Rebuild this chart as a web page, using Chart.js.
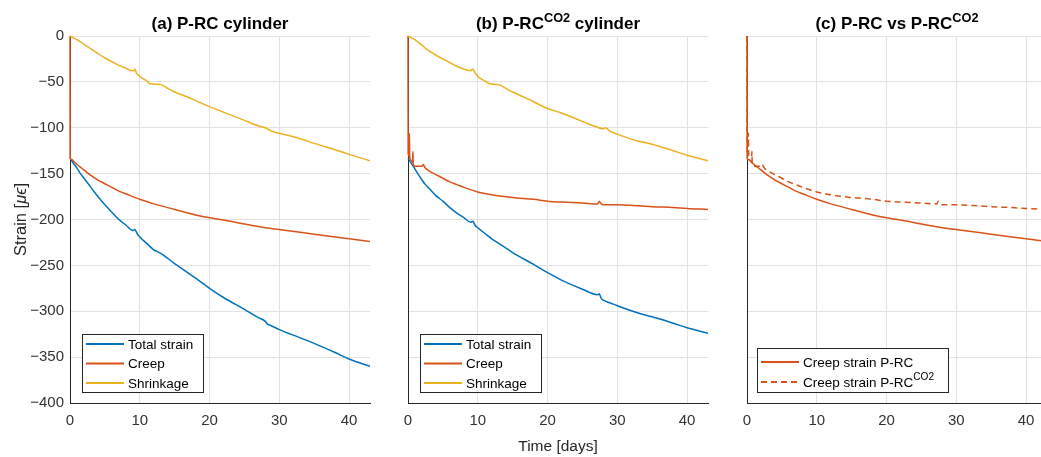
<!DOCTYPE html>
<html><head><meta charset="utf-8">
<script src="https://cdn.jsdelivr.net/npm/chart.js@4/dist/chart.umd.min.js"></script>
<style>
html,body{margin:0;padding:0;background:#fff;}
body{width:1041px;height:457px;overflow:hidden;position:relative;}
canvas{position:absolute;top:0;}
</style></head>
<body>
<canvas id="ca" width="380" height="457" style="left:0px"></canvas>
<canvas id="cb" width="380" height="457" style="left:338px"></canvas>
<canvas id="cc" width="380" height="457" style="left:677px"></canvas>
<script>
// ---------- data ----------
const xTicks = [0, 10, 20, 30, 40];
const yTicks = [0, -50, -100, -150, -200, -250, -300, -350, -400];

// (a) P-RC cylinder
const totalA_t = [0, 0.5, 1, 1.5, 2, 3, 4, 5, 6, 7, 8, 9, 9.3, 9.6, 10, 11, 12, 12.5, 13, 15, 18, 20, 22, 25, 27, 28, 28.3, 28.6, 30, 33, 35, 38, 40, 43];
const totalA_v = [-133, -139, -144, -150, -155, -165, -175, -184, -192, -200, -206, -212, -211, -215, -219, -226, -233, -235, -237, -248, -264, -275, -285, -298, -307, -311, -314, -315, -320, -329, -335, -345, -352, -360];
const creepA_t = [0, 0.02, 0.3, 0.6, 1, 1.5, 2, 3, 4, 5, 6, 7, 8, 10, 12, 15, 18, 20, 23, 25, 28, 30, 33, 35, 38, 40, 43];
const creepA_v = [0, -133, -135, -137, -140, -143, -146, -152, -157, -161, -165, -169, -172, -178, -183, -189, -195, -198, -202, -205, -209, -211, -214, -216, -219, -221, -224];
const shrinkA_t = [0, 0.5, 1, 2, 3, 4, 5, 6, 7, 8, 9, 9.2, 9.3, 9.5, 10, 11, 11.5, 13, 14, 15, 17, 20, 22, 25, 27, 28, 28.5, 29, 30, 33, 35, 38, 40, 43];
const shrinkA_v = [0, -2, -4, -9, -14, -19, -24, -28, -32, -35, -38, -37.5, -36, -40, -44, -49, -52, -53, -57, -61, -67, -77, -83, -92, -98, -100, -102, -104, -106, -112, -117, -124, -129, -136];

// (b) P-RC CO2 cylinder
const totalB_t = [0, 0.5, 1, 1.5, 2, 2.5, 3, 4, 5, 6, 7, 8, 9, 9.3, 9.6, 10, 11, 12, 13, 15, 18, 20, 22, 25, 27.2, 27.4, 27.7, 28, 29, 30, 33, 35, 38, 40, 43];
const totalB_v = [-133, -139, -145, -151, -157, -162, -166, -174, -180, -187, -193, -198, -203, -202, -206, -209, -215, -221, -226, -236, -249, -258, -266, -276, -282, -281, -286, -288, -291, -294, -302, -306, -313, -318, -324];
const creepB_t = [0, 0.02, 0.15, 0.2, 0.25, 0.5, 0.65, 0.7, 0.75, 1, 1.5, 2, 2.2, 2.4, 3, 4, 5, 6, 7, 8, 10, 12, 15, 18, 20, 22, 25, 27.2, 27.4, 27.7, 28, 30, 33, 35, 38, 40, 43];
const creepB_v = [0, -128, -131, -106, -132, -136, -138, -126, -139, -142, -142, -142, -140, -143, -147, -151, -155, -159, -162, -165, -170, -173, -176, -178, -180, -181, -182, -183, -180, -183, -184, -184, -185, -186, -187, -188, -189];
const shrinkB_t = [0, 0.5, 1, 1.5, 2, 2.6, 3, 4, 5, 6, 7, 8, 9, 9.1, 9.3, 9.6, 10, 11, 11.7, 13, 14, 15, 17, 20, 22, 25, 27, 27.9, 28.3, 29, 30, 32.7, 35, 38, 40, 43];
const shrinkB_v = [0, -2, -4, -7, -10, -14, -16, -21, -25, -29, -33, -36, -38, -37, -36, -40, -44, -49, -52, -53, -57, -61, -68, -79, -84, -93, -99, -101, -100, -104, -107, -114, -118, -125, -130, -136];

// ---------- styling ----------
const FONT = '"Liberation Sans", Arial, Helvetica, sans-serif';
const BLUE = '#0072BD', ORANGE = '#D95319', YELLOW = '#EDB120';
const AXIS = '#262626', GRID = '#e2e2e2', TICK = '#333333';

function pts(t, v) { return t.map((x, i) => ({ x: x, y: v[i] })); }

function fontStr(p, size, weight) {
  const s = p.sup ? size * 0.75 : size;
  return (p.it ? 'italic ' : '') + (weight || 'normal') + ' ' + s + 'px ' + FONT;
}
function drawRich(ctx, parts, x, y, size, weight, align, color) {
  let w = 0;
  parts.forEach(p => { ctx.font = fontStr(p, size, weight); w += ctx.measureText(p.t).width; });
  let cx = align === 'center' ? x - w / 2 : x;
  ctx.fillStyle = color;
  ctx.textAlign = 'left';
  parts.forEach(p => {
    ctx.font = fontStr(p, size, weight);
    ctx.fillText(p.t, cx, y + (p.sup ? -size * 0.42 : 0));
    cx += ctx.measureText(p.t).width;
  });
}

const decor = {
  id: 'decor',
  afterDraw(chart, args, o) {
    const ctx = chart.ctx, a = chart.chartArea;
    ctx.save();
    ctx.textBaseline = 'alphabetic';
    drawRich(ctx, o.title, (a.left + a.right) / 2, 29, 17, 'bold', 'center', '#000');
    if (o.ylabel) {
      ctx.save();
      ctx.translate(26, (a.top + a.bottom) / 2);
      ctx.rotate(-Math.PI / 2);
      drawRich(ctx, o.ylabel, 0, 0, 16.5, 'normal', 'center', AXIS);
      ctx.restore();
    }
    if (o.xlabel) {
      drawRich(ctx, o.xlabel, (a.left + a.right) / 2, 451, 15.5, 'normal', 'center', AXIS);
    }
    const L = o.legend;
    ctx.fillStyle = '#fff';
    ctx.fillRect(L.x, L.y, L.w, L.h);
    ctx.strokeStyle = AXIS;
    ctx.lineWidth = 1;
    ctx.strokeRect(L.x + 0.5, L.y + 0.5, L.w, L.h);
    L.items.forEach((it, i) => {
      const yy = L.y + L.first + i * L.step;
      ctx.beginPath();
      ctx.setLineDash(it.dash || []);
      ctx.strokeStyle = it.color;
      ctx.lineWidth = 2;
      ctx.moveTo(L.x + 4, yy);
      ctx.lineTo(L.x + 42, yy);
      ctx.stroke();
      ctx.setLineDash([]);
      ctx.textBaseline = 'middle';
      drawRich(ctx, it.label, L.x + 46, yy + 1, 13.5, 'normal', 'left', '#000');
      ctx.textBaseline = 'alphabetic';
    });
    ctx.restore();
  }
};

function line(data, color, order, dash) {
  return {
    data: data, borderColor: color, backgroundColor: color, borderWidth: 1.5,
    pointRadius: 0, cubicInterpolationMode: 'monotone', fill: false, order: order,
    borderDash: dash || [], clip: { left: 3, top: 3, right: 0, bottom: 0 }
  };
}

const minusFmt = v => String(v).replace('-', '\u2212');

function makeChart(id, datasets, showY, decorOpts) {
  return new Chart(document.getElementById(id), {
    type: 'line',
    data: { datasets: datasets },
    options: {
      responsive: false, animation: false, events: [],
      layout: { padding: { top: 36, right: 10, left: 0, bottom: 0 } },
      plugins: { legend: { display: false }, tooltip: { enabled: false }, decor: decorOpts },
      scales: {
        x: {
          type: 'linear', min: 0, max: 43,
          afterBuildTicks: s => { s.ticks = xTicks.map(v => ({ value: v })); },
          afterFit: s => { s.height = 54; },
          ticks: { stepSize: 10, autoSkip: false, maxRotation: 0, color: TICK, padding: 9,
                   font: { family: FONT, size: 15 } },
          grid: { color: GRID, drawTicks: false, lineWidth: 1 },
          border: { display: true, color: AXIS, width: 1 }
        },
        y: {
          type: 'linear', min: -400, max: 0,
          afterBuildTicks: s => { s.ticks = yTicks.map(v => ({ value: v })); },
          afterFit: s => { s.width = 70; },
          ticks: { display: showY, stepSize: 50, autoSkip: false, color: TICK, padding: 6,
                   font: { family: FONT, size: 15 }, callback: minusFmt },
          grid: { color: GRID, drawTicks: false, lineWidth: 1 },
          border: { display: true, color: AXIS, width: 1 }
        }
      }
    },
    plugins: [decor]
  });
}

const legend3 = {
  x: 82, y: 334, w: 121, h: 58, first: 10, step: 19.5,
  items: [
    { color: BLUE, label: [{ t: 'Total strain' }] },
    { color: ORANGE, label: [{ t: 'Creep' }] },
    { color: YELLOW, label: [{ t: 'Shrinkage' }] }
  ]
};

makeChart('ca', [
  line(pts(totalA_t, totalA_v), BLUE, 3),
  line(pts(creepA_t, creepA_v), ORANGE, 2),
  line(pts(shrinkA_t, shrinkA_v), YELLOW, 1)
], true, {
  title: [{ t: '(a) P-RC cylinder' }],
  ylabel: [{ t: 'Strain [' }, { t: 'μϵ', it: true }, { t: ']' }],
  legend: legend3
});

makeChart('cb', [
  line(pts(totalB_t, totalB_v), BLUE, 3),
  line(pts(creepB_t, creepB_v), ORANGE, 2),
  line(pts(shrinkB_t, shrinkB_v), YELLOW, 1)
], false, {
  title: [{ t: '(b) P-RC' }, { t: 'CO2', sup: true }, { t: ' cylinder' }],
  xlabel: [{ t: 'Time [days]' }],
  legend: legend3
});

makeChart('cc', [
  line(pts(creepA_t, creepA_v), ORANGE, 2),
  line(pts(creepB_t, creepB_v), ORANGE, 1, [6, 4])
], false, {
  title: [{ t: '(c) P-RC vs P-RC' }, { t: 'CO2', sup: true }],
  legend: {
    x: 80, y: 348, w: 191, h: 44, first: 14, step: 20,
    items: [
      { color: ORANGE, label: [{ t: 'Creep strain P-RC' }] },
      { color: ORANGE, dash: [6, 4], label: [{ t: 'Creep strain P-RC' }, { t: 'CO2', sup: true }] }
    ]
  }
});
</script>
</body></html>
